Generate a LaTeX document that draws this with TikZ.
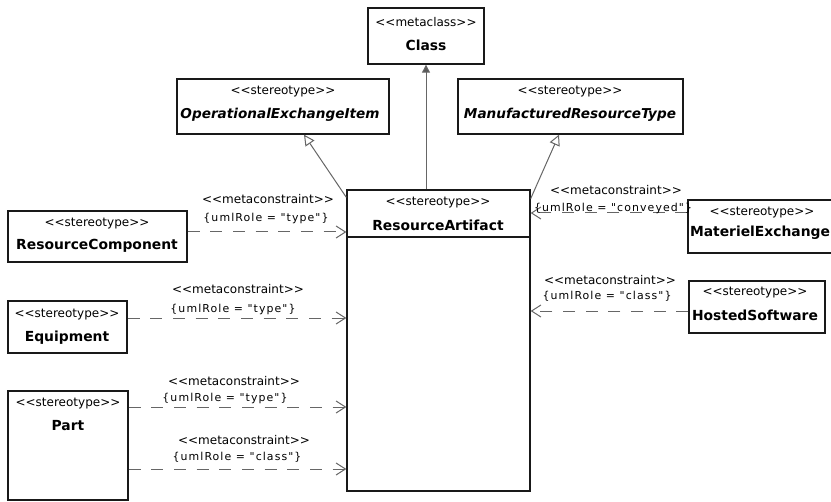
\documentclass[tikz,border=0pt]{standalone}
\usepackage{fontspec}
\setmainfont{DejaVu Sans}
\newfontfamily\consfont[LetterSpace=10]{DejaVu Sans}
\usetikzlibrary{arrows.meta,fit}
\newcommand\umlopen{<{}<}
\newcommand\umlclose{>{}>}
\begin{document}
\begin{tikzpicture}[x=0.75pt,y=-0.75pt,
  box/.style={draw=black!90,line width=1pt,inner sep=0pt,fill=white},
  st/.style={font=\fontsize{9}{10}\selectfont,inner sep=0pt},
  nm/.style={font=\fontsize{10.4}{12}\selectfont\bfseries,inner sep=0pt},
  nmi/.style={font=\fontsize{10.2}{12}\selectfont\bfseries\itshape,inner sep=0pt},
  mc/.style={font=\fontsize{9}{10}\selectfont,inner sep=0pt},
  rl/.style={font=\consfont\fontsize{8.2}{10}\selectfont,inner sep=0pt},
  dep/.style={draw=black!60,line width=0.75pt,dash pattern=on 9pt off 8pt,-{Straight Barb[length=7pt,width=9pt]}},
  gen/.style={draw=black!60,line width=0.75pt,-{Triangle[open,length=8pt,width=8pt,fill=white]}},
  ext/.style={draw=black!60,line width=0.75pt,-{Triangle[length=6pt,width=6pt,fill=black!65]}},
]
\useasboundingbox (0,0) rectangle (831,502);

% boxes
\node[box,fit={(368,8)(484,64)}] (cls) {};
\node[box,fit={(177,79)(389,134)}] (oei) {};
\node[box,fit={(458,79)(683,134)}] (mrt) {};
\node[box,fit={(347,190)(530,491)}] (ra) {};
\node[box,fit={(8,211)(187,262)}] (rc) {};
\node[box,fit={(8,301)(127,353)}] (eq) {};
\node[box,fit={(8,391)(128,500)}] (part) {};
\node[box,fit={(688,200)(834,253)}] (me) {};
\node[box,fit={(689,281)(825,333)}] (hs) {};
\coordinate (sep) at (0,237);
\draw[draw=black!90,line width=1pt] (ra.west |- sep) -- (ra.east |- sep);

% box texts
\node[st] (t1) at (426,22) {\umlopen metaclass\umlclose};
\node[nm] (n1) at (426,45) {Class};
\node[st] (t2) at (283,92) {\umlopen stereotype\umlclose};
\node[nmi] (n2) at (280,115) {OperationalExchangeItem};
\node[st] (t3) at (570,92) {\umlopen stereotype\umlclose};
\node[nmi] (n3) at (570,115) {ManufacturedResourceType};
\node[st] (t4) at (438,203) {\umlopen stereotype\umlclose};
\node[nm] (n4) at (438,225) {ResourceArtifact};
\node[st] (t5) at (97,224) {\umlopen stereotype\umlclose};
\node[nm] (n5) at (97,246) {ResourceComponent};
\node[st] (t6) at (67,315) {\umlopen stereotype\umlclose};
\node[nm] (n6) at (67,338) {Equipment};
\node[st] (t7) at (68,404) {\umlopen stereotype\umlclose};
\node[nm] (n7) at (68,426) {Part};
\node[st] (t8) at (762,213) {\umlopen stereotype\umlclose};
\node[nm] (n8) at (760,233) {MaterielExchange};
\node[st] (t9) at (755,293) {\umlopen stereotype\umlclose};
\node[nm] (n9) at (755,315) {HostedSoftware};

% connectors
\coordinate (g1) at (304,0);
\coordinate (g2) at (559,0);
\draw[gen] ([yshift=-6pt]ra.north west) -- (oei.south -| g1);
\draw[gen] ([yshift=-7pt]ra.north east) -- (mrt.south -| g2);
\draw[ext] (ra.north -| cls.south) -- (cls.south);

\coordinate (yRC) at (0,232);
\coordinate (yEQ) at (0,318);
\coordinate (yP1) at (0,407);
\coordinate (yP2) at (0,469);
\coordinate (yME) at (0,213);
\coordinate (yHS) at (0,311);
\draw[dep] (rc.east |- yRC) -- (ra.west |- yRC);
\draw[dep] (eq.east |- yEQ) -- (ra.west |- yEQ);
\draw[dep] (part.east |- yP1) -- (ra.west |- yP1);
\draw[dep] (part.east |- yP2) -- (ra.west |- yP2);
\draw[dep] (me.west |- yME) -- (ra.east |- yME);
\draw[dep] (hs.west |- yHS) -- (ra.east |- yHS);

% connector labels
\node[mc] (m1) at (268,199) {\umlopen metaconstraint\umlclose};
\node[rl] (r1) at (266,218) {\{umlRole = "type"\}};
\node[mc] (m2) at (238,289) {\umlopen metaconstraint\umlclose};
\node[rl] (r2) at (233,309) {\{umlRole = "type"\}};
\node[mc] (m3) at (234,381) {\umlopen metaconstraint\umlclose};
\node[rl] (r3) at (225,398) {\{umlRole = "type"\}};
\node[mc] (m4) at (244,440) {\umlopen metaconstraint\umlclose};
\node[rl] (r4) at (237,457) {\{umlRole = "class"\}};
\node[mc] (m5) at (616,190) {\umlopen metaconstraint\umlclose};
\node[rl] (r5) at (613,208) {\{umlRole = "conveyed"\}};
\node[mc] (m6) at (610,280) {\umlopen metaconstraint\umlclose};
\node[rl] (r6) at (607,296) {\{umlRole = "class"\}};
\end{tikzpicture}
\end{document}
